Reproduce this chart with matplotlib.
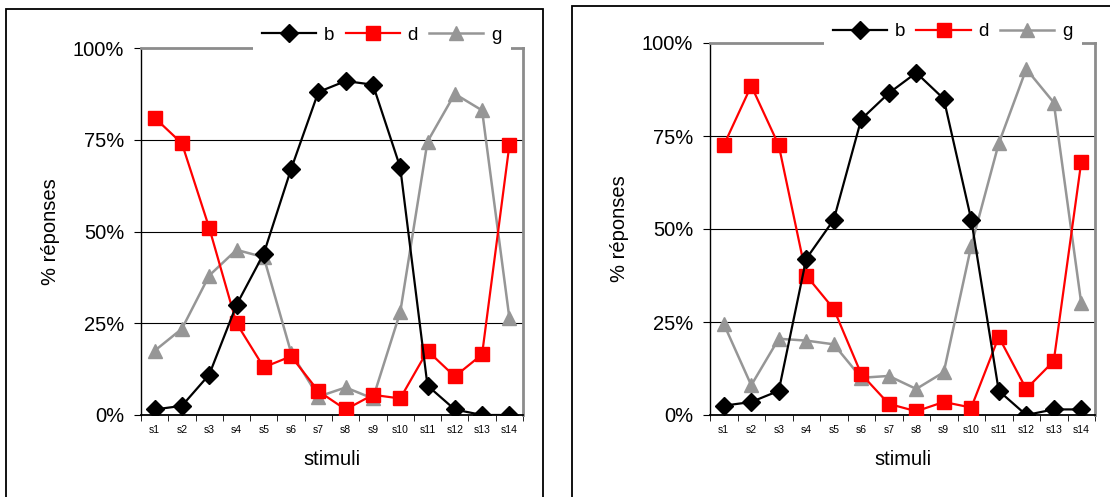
import matplotlib.pyplot as plt
from matplotlib.patches import Rectangle
from matplotlib.ticker import FuncFormatter
import numpy as np

plt.rcParams['font.family'] = ['Liberation Sans', 'DejaVu Sans']

stimuli = ["s%d" % i for i in range(1, 15)]

# left panel
b_left = [1.5, 2.5, 11, 30, 44, 67, 88, 91, 90, 67.5, 8, 1.5, 0, 0]
d_left = [81, 74, 51, 25, 13, 16, 6.5, 1.5, 5.5, 4.5, 17.5, 10.5, 16.5, 73.5]
g_left = [17.5, 23.5, 38, 45, 43, 17, 5, 7.5, 4.5, 28, 74.5, 87.5, 83, 26.5]

# right panel
b_right = [2.5, 3.5, 6.5, 42, 52.5, 79.5, 86.5, 92, 85, 52.5, 6.5, 0, 1.5, 1.5]
d_right = [72.5, 88.5, 72.5, 37.5, 28.5, 11, 3, 1, 3.5, 2, 21, 7, 14.5, 68]
g_right = [24.5, 8, 20.5, 20, 19, 10, 10.5, 7, 11.5, 45.5, 73, 93, 84, 30]

W, H = 1110, 497
fig = plt.figure(figsize=(W / 100, H / 100), dpi=100)

def px_axes(x0, x1, ytop, ybot):
    return fig.add_axes([x0 / W, (H - ybot) / H, (x1 - x0) / W, (ybot - ytop) / H])

def draw_panel(ax, b, d, g, leg_x, leg_y):
    x = np.arange(len(stimuli))
    ax.plot(x, b, color="black", lw=1.6, marker="D", ms=9.5, label="b", zorder=5)
    ax.plot(x, d, color="#ff0000", lw=1.6, marker="s", ms=10.5, label="d", zorder=4)
    ax.plot(x, g, color="#969696", lw=1.8, marker="^", ms=10.5, label="g", zorder=3)
    ax.set_xlim(-0.5, len(stimuli) - 0.5)
    ax.set_ylim(0, 100)
    ax.set_yticks([0, 25, 50, 75, 100])
    ax.yaxis.set_major_formatter(FuncFormatter(lambda v, p: "%d%%" % v))
    ax.set_xticks(x)
    ax.set_xticklabels(stimuli, fontsize=7.5)
    ax.set_xticks(np.arange(-0.5, len(stimuli)), minor=True)
    ax.tick_params(axis="x", which="major", length=0, pad=7)
    ax.tick_params(axis="x", which="minor", length=4, direction="out", color="black")
    ax.tick_params(axis="y", length=5, direction="out", labelsize=14.5, pad=7)
    for yv in [25, 50, 75]:
        ax.axhline(yv, color="black", lw=0.8, zorder=1)
    ax.spines["top"].set_color("#8c8c8c")
    ax.spines["top"].set_linewidth(2)
    ax.spines["right"].set_color("#8c8c8c")
    ax.spines["right"].set_linewidth(2)
    ax.spines["left"].set_linewidth(1)
    ax.spines["bottom"].set_linewidth(1.3)
    ax.set_xlabel("stimuli", fontsize=14.5, labelpad=11)
    ax.set_ylabel("% réponses", fontsize=14.5, labelpad=9)
    leg = ax.legend(loc="center", bbox_to_anchor=(leg_x, leg_y), ncol=3,
                    fontsize=13.5, frameon=True, fancybox=False, edgecolor="white",
                    framealpha=1, handlelength=2.9, handletextpad=0.4,
                    columnspacing=0.6, borderpad=0.5)
    leg.get_frame().set_linewidth(0)
    leg.set_zorder(10)

# outer boxes
fig.patches.append(Rectangle((6 / W, -0.05), 537 / W, (H - 9) / H + 0.05,
                             transform=fig.transFigure, fill=False,
                             edgecolor="black", lw=1.3))
fig.patches.append(Rectangle((572 / W, -0.05), 545 / W, (H - 6) / H + 0.05,
                             transform=fig.transFigure, fill=False,
                             edgecolor="black", lw=1.3))

ax1 = px_axes(141, 523, 48, 415)
draw_panel(ax1, b_left, d_left, g_left, 0.63, 1.035)

ax2 = px_axes(710, 1095, 43, 415)
draw_panel(ax2, b_right, d_right, g_right, 0.63, 1.03)

fig.savefig("out.png", dpi=100)
